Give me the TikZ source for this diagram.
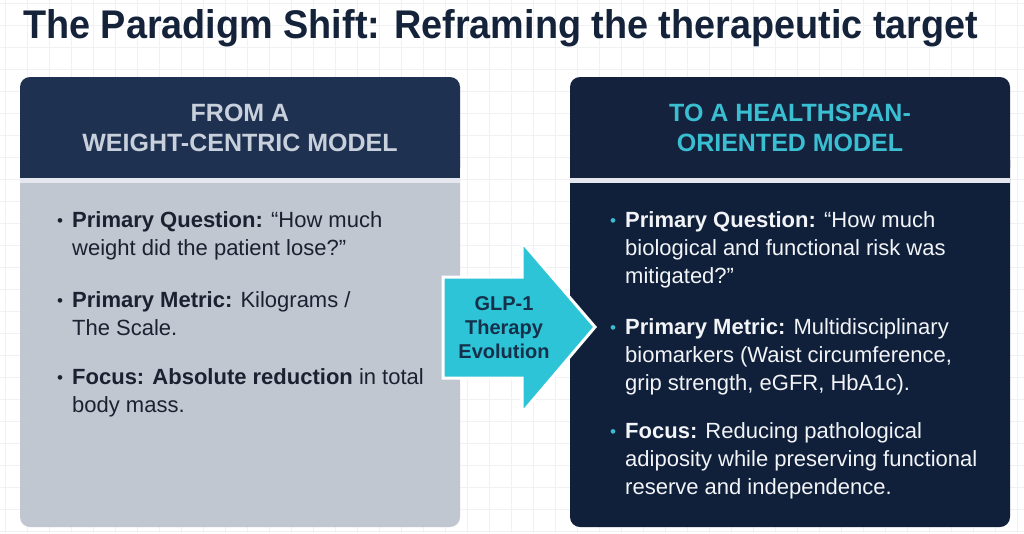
\documentclass[tikz,border=0pt]{standalone}
\usepackage{fontspec}
\usepackage{graphicx}
\setmainfont{Liberation Sans}
\definecolor{navyL}{HTML}{1F3151}
\definecolor{grayB}{HTML}{C1C7D0}
\definecolor{navyR}{HTML}{14223D}
\definecolor{navyRB}{HTML}{10203B}
\definecolor{titlec}{HTML}{14223A}
\definecolor{hdrL}{HTML}{C8D0DB}
\definecolor{tealc}{HTML}{3ABFD2}
\definecolor{arrowc}{HTML}{2EC4D7}
\definecolor{arrowtxt}{HTML}{15304A}
\definecolor{gridc}{HTML}{EFF1F4}
\definecolor{txtL}{HTML}{1B2130}
\definecolor{txtR}{HTML}{F2F4F7}
\definecolor{sepc}{HTML}{E4E8EE}
\newcommand{\bulletpar}[3]{\parbox[t]{#1}{\fontsize{22}{28}\selectfont\raggedright\hangindent=15pt\hangafter=1\noindent\makebox[15pt][l]{\textcolor{#2}{\fontsize{17}{17}\selectfont\raisebox{1pt}{•}}}#3}}
\tikzset{
  hdrtext/.style={align=center, inner sep=0pt, font=\fontsize{25}{30}\selectfont\bfseries},
  itemtext/.style={anchor=base west, inner sep=0pt},
  paneledge/.style={line width=0pt}
}
\begin{document}
\begin{tikzpicture}[x=1pt,y=-1pt]
\useasboundingbox (0,0) rectangle (1024,533);
\fill[white] (0,0) rectangle (1024,533);
% background grid
\foreach \i in {0,...,46} {\draw[gridc, line width=0.7pt] (\i*22+5,0) -- (\i*22+5,533);}
\foreach \j in {0,...,24} {\draw[gridc, line width=0.7pt] (0,\j*22+3) -- (1024,\j*22+3);}

% title
\node[anchor=base west, inner sep=0pt, text=titlec] (title) at (23,38)
  {\resizebox{955pt}{\height}{\fontsize{40}{40}\selectfont\bfseries The Paradigm Shift: Reframing the therapeutic target}};

% left panel
\fill[grayB, rounded corners=10pt] (20,150) rectangle (460,527);
\fill[navyL, rounded corners=10pt] (20,77) rectangle (460,178);
\fill[navyL] (20,140) rectangle (460,178);
\fill[sepc] (20,178) rectangle (460,183);

% right panel
\fill[navyRB, rounded corners=10pt] (570,150) rectangle (1010,527);
\fill[navyR, rounded corners=10pt] (570,77) rectangle (1010,178);
\fill[navyR] (570,140) rectangle (1010,178);
\fill[sepc] (570,178) rectangle (1010,183);

% headers
\node[hdrtext, text=hdrL] (lhead) at (240,128) {FROM A\\WEIGHT-CENTRIC MODEL};
\node[hdrtext, text=tealc] (rhead) at (790,128) {TO A HEALTHSPAN-\\ORIENTED MODEL};

% left items
\node[itemtext, text=txtL] (lq) at (57,227) {\bulletpar{420pt}{txtL}{\textbf{Primary Question:} “How much\newline weight did the patient lose?”}};
\node[itemtext, text=txtL] (lm) at (57,307) {\bulletpar{420pt}{txtL}{\textbf{Primary Metric:} Kilograms /\newline The Scale.}};
\node[itemtext, text=txtL] (lf) at (57,384) {\bulletpar{420pt}{txtL}{\textbf{Focus: Absolute reduction} in total\newline body mass.}};

% right items
\node[itemtext, text=txtR] (rq) at (610,227) {\bulletpar{395pt}{tealc}{\textbf{Primary Question:} “How much\newline biological and functional risk was\newline mitigated?”}};
\node[itemtext, text=txtR] (rm) at (610,334) {\bulletpar{395pt}{tealc}{\textbf{Primary Metric:} Multidisciplinary\newline biomarkers (Waist circumference,\newline grip strength, eGFR, HbA1c).}};
\node[itemtext, text=txtR] (rf) at (610,438) {\bulletpar{395pt}{tealc}{\textbf{Focus:} Reducing pathological\newline adiposity while preserving functional\newline reserve and independence.}};

% arrow
\draw[white, line width=3pt, fill=arrowc, line join=miter]
  (443,277) -- (522,277) -- (522,242) -- (595,327) -- (522,413) -- (522,378) -- (443,378) -- cycle;
\node[align=center, inner sep=0pt, text=arrowtxt, font=\fontsize{20}{24}\selectfont\bfseries] (glp) at (504,328) {GLP-1\\Therapy\\Evolution};
\end{tikzpicture}
\end{document}
